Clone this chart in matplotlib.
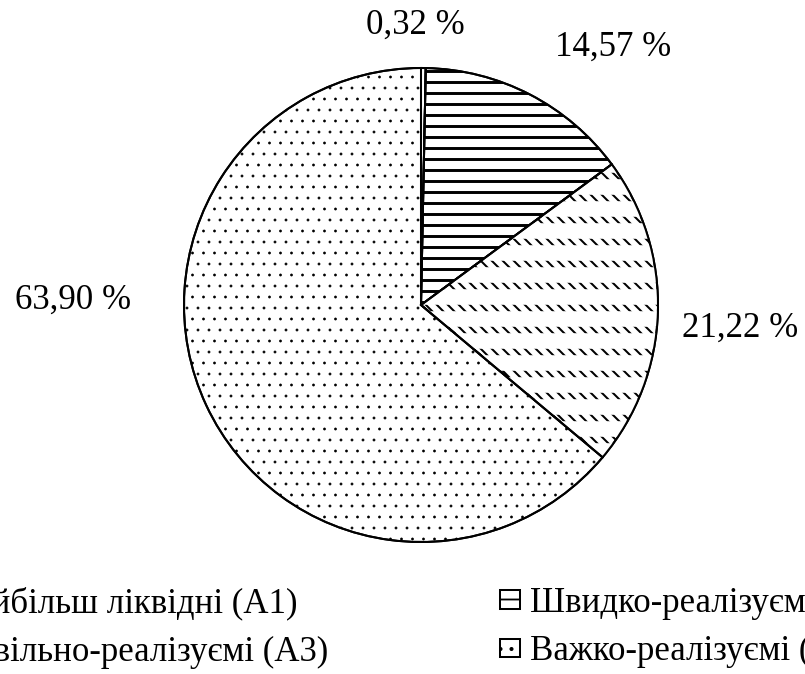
"""
Pie chart of asset structure by liquidity groups (A1-A4), hatch-filled.
"""
import numpy as np
import matplotlib
matplotlib.use("Agg")  # no display, save to file
import matplotlib.pyplot as plt
from matplotlib.patches import Wedge

categories = ["Найбільш ліквідні (А1)", "Швидко-реалізуємі (А2)",
              "Повільно-реалізуємі (А3)", "Важко-реалізуємі (А4)"]
shares = [0.32, 14.57, 21.22, 63.90]

# styling per slice
hatches = ["", "--", "\\\\\\\\", ".."]
hatch_lw = [1.0, 1.6, 1.1, 0.3]
# where each percent label sits (pixels from top-left)
label_xy = [(415, 25), (613, 47), (740, 328), (73, 300)]

DPI = 132
W, H = 805, 674
plt.rcParams["font.family"] = ["Liberation Serif", "DejaVu Serif"]

fig = plt.figure(figsize=(W / DPI, H / DPI), dpi=DPI)
fig.patch.set_facecolor("white")
ax = fig.add_axes([0, 0, 1, 1])

cx, cy, r = 421, H - 305, 237
wedges, _ = ax.pie(shares, startangle=90, counterclock=False,
                   center=(cx, cy), radius=r, colors=["white"] * 4,
                   hatch=hatches,
                   wedgeprops=dict(edgecolor="black", linewidth=1.1))
for w, lw in zip(wedges, hatch_lw):
    if hasattr(w, "set_hatch_linewidth"):
        w.set_hatch_linewidth(lw)

# break the A3 diagonals into short dashes with white bands
w3 = wedges[2]
mask = Wedge((cx, cy), r, w3.theta1, w3.theta2, facecolor="none",
             edgecolor="white", linewidth=0, hatch="-", zorder=3)
if hasattr(mask, "set_hatch_linewidth"):
    mask.set_hatch_linewidth(8.5)
ax.add_patch(mask)

# outlines on top
for w in wedges:
    ax.add_patch(Wedge((cx, cy), r, w.theta1, w.theta2, fill=False,
                       edgecolor="black", linewidth=1.1, zorder=4))

for v, (x, y) in zip(shares, label_xy):
    ax.text(x, H - y, f"{v:.2f} %".replace(".", ","), ha="center",
            va="center", fontsize=19)

ax.set_xlim(0, W)
ax.set_ylim(0, H)
ax.set_aspect("auto")
ax.set_axis_off()

leg_kw = dict(frameon=False, fontsize=19, handlelength=0.57, handleheight=0.43,
              handletextpad=0.29, borderpad=0, borderaxespad=0, labelspacing=0.43)
fig.legend([wedges[0], wedges[2]], [categories[0], categories[2]],
           loc="upper right", bbox_to_anchor=(328 / W, 1 - 587 / H), **leg_kw)
fig.legend([wedges[1], wedges[3]], [categories[1], categories[3]],
           loc="upper left", bbox_to_anchor=(500 / W, 1 - 587 / H), **leg_kw)

plt.savefig("out.png", dpi=DPI, facecolor=fig.get_facecolor())
